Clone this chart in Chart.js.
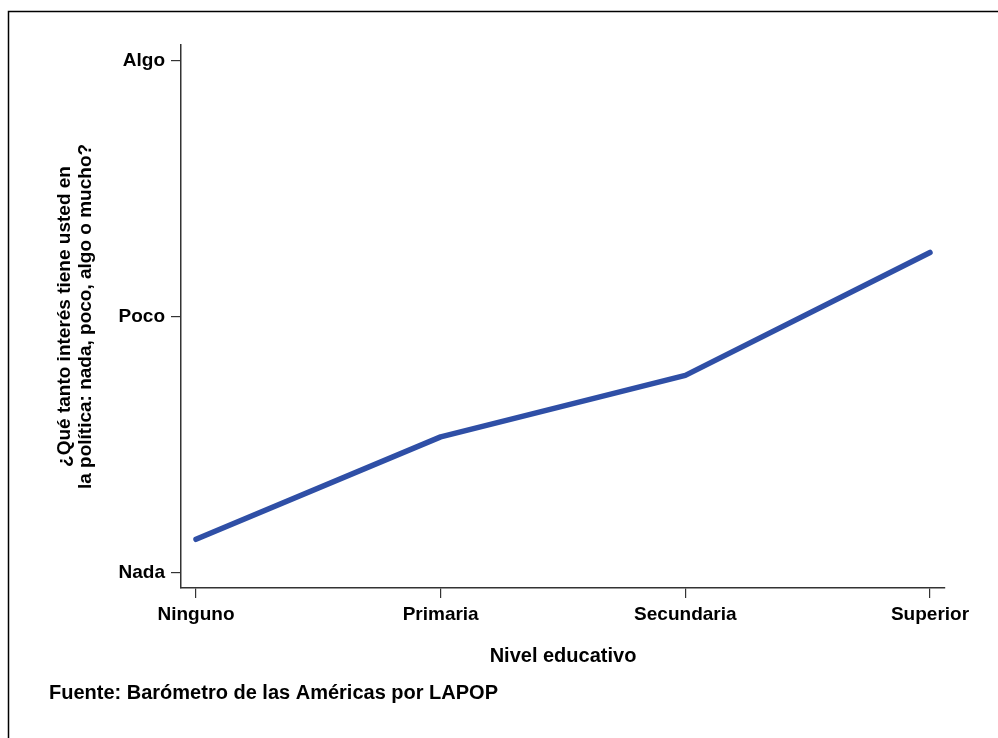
<!DOCTYPE html>
<html>
<head>
<meta charset="utf-8">
<script src="https://cdn.jsdelivr.net/npm/chart.js@4.4.1/dist/chart.umd.min.js"></script>
<style>
  html, body { margin: 0; padding: 0; background: #fff; }
  #wrap { width: 998px; height: 738px; }
</style>
</head>
<body>
<div id="wrap"><canvas id="eduChart" width="998" height="738"></canvas></div>
<script>
var categories = ["Ninguno", "Primaria", "Secundaria", "Superior"];
var interes = [1.13, 1.53, 1.77, 2.25];
var yTickValues = [1, 2, 3];
var yTickLabels = ["Nada", "Poco", "Algo"];

Chart.defaults.font.family = "'Liberation Sans', Arial, Helvetica, sans-serif";
Chart.defaults.font.weight = "bold";
Chart.defaults.color = "#111";

// thin frame around the figure, open on the right and bottom
var framePlugin = {
  id: "frame",
  beforeDraw: function (chart) {
    var ctx = chart.ctx;
    ctx.save();
    ctx.fillStyle = "#fff";
    ctx.fillRect(0, 0, chart.width, chart.height);
    ctx.strokeStyle = "#000";
    ctx.lineWidth = 1.5;
    ctx.beginPath();
    ctx.moveTo(8.5, chart.height);
    ctx.lineTo(8.5, 11.5);
    ctx.lineTo(chart.width, 11.5);
    ctx.stroke();
    ctx.restore();
  }
};

var points = interes.map(function (v, i) { return { x: i, y: v }; });
var axisGray = "#333";

new Chart(document.getElementById("eduChart"), {
  type: "line",
  data: {
    datasets: [{
      data: points,
      borderColor: "#2f4fa6",
      borderWidth: 5.5,
      borderCapStyle: "round",
      borderJoinStyle: "round",
      pointRadius: 0,
      tension: 0,
      fill: false
    }]
  },
  options: {
    responsive: false,
    animation: false,
    layout: { padding: { left: 49, top: 45, right: 53, bottom: 33 } },
    plugins: {
      legend: { display: false },
      tooltip: { enabled: false },
      title: {
        display: true,
        position: "bottom",
        align: "start",
        text: "Fuente: Barómetro de las Américas por LAPOP",
        color: "#000",
        font: { size: 20, weight: "bold" },
        padding: 0
      }
    },
    scales: {
      x: {
        type: "linear",
        min: -0.0613,
        max: 3.0613,
        afterBuildTicks: function (scale) {
          scale.ticks = categories.map(function (c, i) { return { value: i }; });
        },
        afterFit: function (scale) { scale.height = 93; },
        grid: { drawOnChartArea: false, drawTicks: true, tickLength: 10, color: axisGray, lineWidth: 1.2 },
        border: { display: true, color: axisGray, width: 1.5 },
        ticks: {
          padding: 5,
          color: "#000",
          font: { size: 19, weight: "bold" },
          maxRotation: 0,
          callback: function (value) { return categories[value]; }
        },
        title: {
          display: true,
          text: "Nivel educativo",
          color: "#000",
          font: { size: 20, weight: "bold" },
          padding: { top: 0, bottom: 13 }
        }
      },
      y: {
        min: 0.94,
        max: 3.06,
        afterBuildTicks: function (scale) {
          scale.ticks = yTickValues.map(function (v) { return { value: v }; });
        },
        afterFit: function (scale) { scale.width = 132; },
        grid: { drawOnChartArea: false, drawTicks: true, tickLength: 10, color: axisGray, lineWidth: 1.2 },
        border: { display: true, color: axisGray, width: 1.5 },
        ticks: {
          padding: 6,
          color: "#000",
          font: { size: 19, weight: "bold" },
          callback: function (value) {
            var k = yTickValues.indexOf(value);
            return k >= 0 ? yTickLabels[k] : "";
          }
        },
        title: {
          display: true,
          text: ["¿Qué tanto interés tiene usted en", "la política: nada, poco, algo o mucho?"],
          color: "#000",
          font: { size: 19, weight: "bold", lineHeight: 1.08 },
          padding: { top: 6, bottom: 0 }
        }
      }
    }
  },
  plugins: [framePlugin]
});
</script>
</body>
</html>
